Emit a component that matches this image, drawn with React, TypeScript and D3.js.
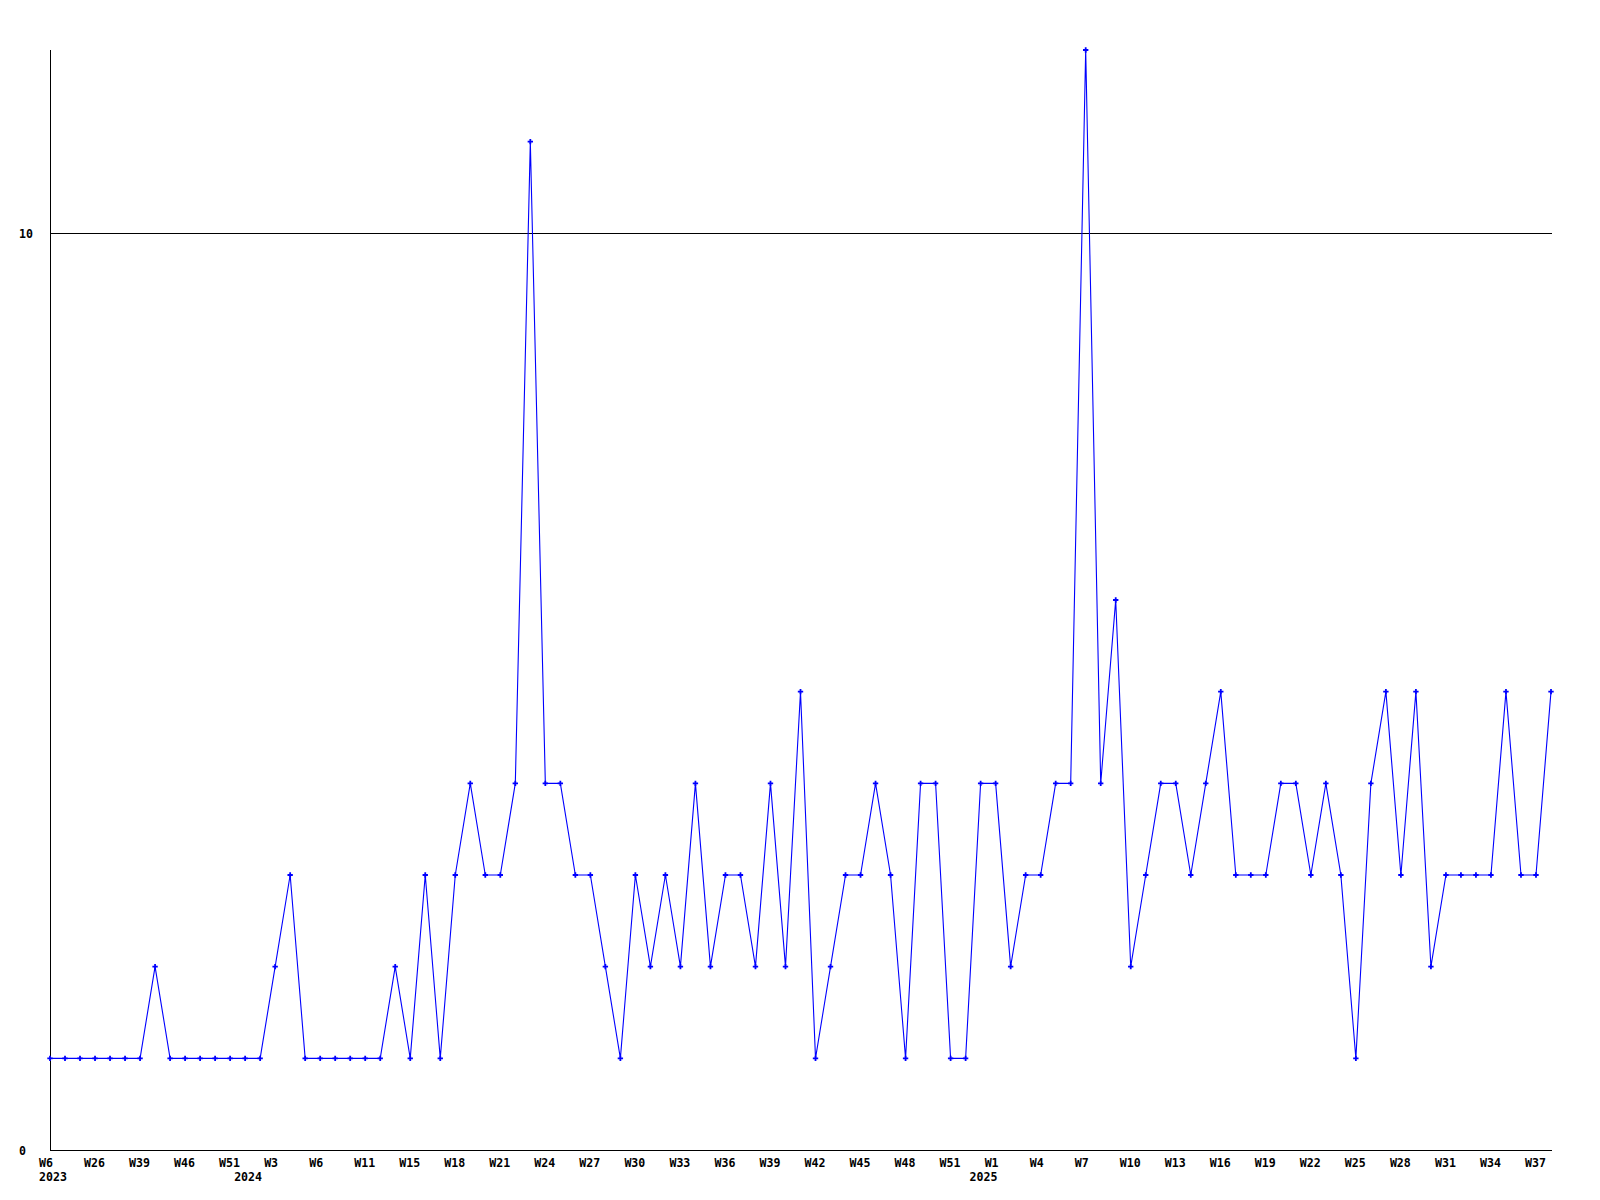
import { useEffect, useRef } from 'react';
import * as d3 from 'd3';

/**
 * WeeklyCountChart — weekly counts from W6 2023 to W38 2025, plotted as a
 * plain blue polyline with small cross markers, old-school bitmap look.
 */

const CHART_WIDTH = 1600;
const CHART_HEIGHT = 1200;
const CHART_MARGIN = { top: 50, right: 49, bottom: 50, left: 50 } as const;

const FONT = 'DejaVu Sans Mono, Liberation Mono, monospace';
const FONT_SIZE = 11.6;

/** Weekly counts, one per plotted point (101 weeks). */
const WEEKLY_COUNTS = [
  1, 1, 1, 1, 1, 1, 1, 2, 1, 1,
  1, 1, 1, 1, 1, 2, 3, 1, 1, 1,
  1, 1, 1, 2, 1, 3, 1, 3, 4, 3,
  3, 4, 11, 4, 4, 3, 3, 2, 1, 3,
  2, 3, 2, 4, 2, 3, 3, 2, 4, 2,
  5, 1, 2, 3, 3, 4, 3, 1, 4, 4,
  1, 1, 4, 4, 2, 3, 3, 4, 4, 12,
  4, 6, 2, 3, 4, 4, 3, 4, 5, 3,
  3, 3, 4, 4, 3, 4, 3, 1, 4, 5,
  3, 5, 2, 3, 3, 3, 3, 5, 3, 3,
  5,
];

/** Week tick labels, one every third point starting at index 0. */
const WEEK_LABELS = [
  'W6', 'W26', 'W39', 'W46', 'W51', 'W3', 'W6', 'W11', 'W15', 'W18',
  'W21', 'W24', 'W27', 'W30', 'W33', 'W36', 'W39', 'W42', 'W45', 'W48',
  'W51', 'W1', 'W4', 'W7', 'W10', 'W13', 'W16', 'W19', 'W22', 'W25',
  'W28', 'W31', 'W34', 'W37',
];
const WEEK_LABEL_STEP = 3;

/** Year labels and the point index they sit under. */
const YEAR_LABELS = ['2023', '2024', '2025'];
const YEAR_LABEL_INDEX = [0, 13, 62];

const Y_MAX = 12;
const Y_TICKS = [0, 10];

export default function App() {
  const svgRef = useRef<SVGSVGElement | null>(null);

  useEffect(() => {
    const svgEl = svgRef.current;
    if (!svgEl) return;

    const svg = d3.select(svgEl);
    svg.selectAll('*').remove();

    const x0 = CHART_MARGIN.left;
    const x1 = CHART_WIDTH - CHART_MARGIN.right;
    const y0 = CHART_HEIGHT - CHART_MARGIN.bottom;
    const y1 = CHART_MARGIN.top;

    const xScale = d3
      .scaleLinear()
      .domain([0, WEEKLY_COUNTS.length - 1])
      .range([x0, x1]);
    const yScale = d3.scaleLinear().domain([0, Y_MAX]).range([y0, y1]);

    svg.append('rect').attr('width', CHART_WIDTH).attr('height', CHART_HEIGHT).attr('fill', '#ffffff');

    // ---- Axes + the single grid line at 10 -------------------------------
    const axes = svg.append('g').attr('shape-rendering', 'crispEdges').attr('stroke', '#000000');
    axes
      .append('line')
      .attr('x1', x0 + 0.5)
      .attr('x2', x0 + 0.5)
      .attr('y1', y1)
      .attr('y2', y0 + 1);
    axes
      .selectAll('line.grid')
      .data(Y_TICKS)
      .join('line')
      .attr('class', 'grid')
      .attr('x1', x0)
      .attr('x2', x1 + 1)
      .attr('y1', (d) => Math.round(yScale(d)) + 0.5)
      .attr('y2', (d) => Math.round(yScale(d)) + 0.5);

    svg
      .append('g')
      .selectAll('text')
      .data(Y_TICKS)
      .join('text')
      .attr('x', 19)
      .attr('y', (d) => yScale(d) + 4.5)
      .attr('font-family', FONT)
      .attr('font-weight', 'bold')
      .attr('font-size', FONT_SIZE)
      .attr('fill', '#000000')
      .text((d) => String(d));

    // ---- X labels (left-aligned a little before their point) -------------
    svg
      .append('g')
      .selectAll('text')
      .data(WEEK_LABELS)
      .join('text')
      .attr('x', (_, i) => xScale(i * WEEK_LABEL_STEP) - 11)
      .attr('y', y0 + 17)
      .attr('font-family', FONT)
      .attr('font-weight', 'bold')
      .attr('font-size', FONT_SIZE)
      .attr('fill', '#000000')
      .text((d) => d);

    svg
      .append('g')
      .selectAll('text')
      .data(YEAR_LABELS)
      .join('text')
      .attr('x', (_, i) => xScale(YEAR_LABEL_INDEX[i]) - 11)
      .attr('y', y0 + 31)
      .attr('font-family', FONT)
      .attr('font-weight', 'bold')
      .attr('font-size', FONT_SIZE)
      .attr('fill', '#000000')
      .text((d) => d);

    // ---- Series ----------------------------------------------------------
    const line = d3
      .line<number>()
      .x((_, i) => xScale(i))
      .y((d) => yScale(d));

    svg
      .append('path')
      .datum(WEEKLY_COUNTS)
      .attr('fill', 'none')
      .attr('stroke', '#0000ff')
      .attr('stroke-width', 1.1)
      .attr('d', line);

    const marker = d3.symbol().type(d3.symbolCross).size(16);
    svg
      .append('g')
      .selectAll('path')
      .data(WEEKLY_COUNTS)
      .join('path')
      .attr('transform', (d, i) => `translate(${xScale(i)}, ${yScale(d)})`)
      .attr('fill', '#0000ff')
      .attr('d', marker);
  }, []);

  return (
    <svg
      ref={svgRef}
      width={CHART_WIDTH}
      height={CHART_HEIGHT}
      viewBox={`0 0 ${CHART_WIDTH} ${CHART_HEIGHT}`}
      style={{ position: 'absolute', left: 0, top: 0, display: 'block' }}
      role="img"
      aria-label="Weekly counts from week 6 of 2023 to week 37 of 2025"
    />
  );
}
